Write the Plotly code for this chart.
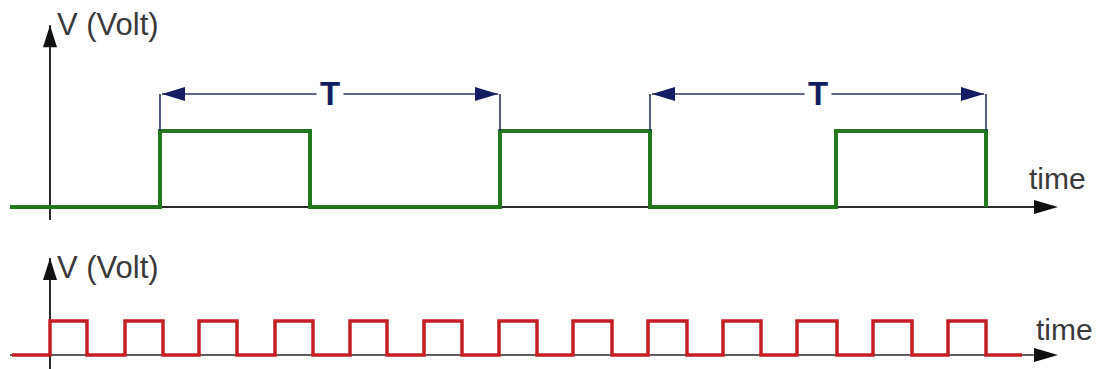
import plotly.graph_objects as go

# slow square wave (top panel): edge times and level after each edge
slow_t = [10, 160, 310, 500, 650, 836, 986]
slow_v = [0, 1, 0, 1, 0, 1, 0]

# fast square wave (bottom panel)
fast_t = [12, 50, 87, 125, 163, 199, 237, 275, 313, 350, 387, 424, 462,
          499, 537, 573, 612, 648, 687, 723, 761, 797, 837, 873, 912,
          948, 986, 1022]
fast_v = [0, 1, 0, 1, 0, 1, 0, 1, 0, 1, 0, 1, 0,
          1, 0, 1, 0, 1, 0, 1, 0, 1, 0, 1, 0,
          1, 0, 0]

# period markers on the slow wave
periods = [(160, 500), (650, 986)]
period_label = "T"
period_level = 1.487

axis_label = "V (Volt)"
time_label = "time"

T_START = 10
T_END = 1058
V_AXIS_T = 50

GREEN = "#23781f"
RED = "#c41e24"
NAVY = "#141c63"
AXIS = "#2a2a2a"
FONT = "Liberation Sans, Arial, sans-serif"


def arrow_head(xref, yref, x, y, direction, color, length=24, half=7):
    """Filled triangle whose tip sits at (x, y) in data coords, sized in pixels."""
    if direction == "right":
        path = f"M0,0 L{-length},{half} L{-length},{-half} Z"
    elif direction == "left":
        path = f"M0,0 L{length},{half} L{length},{-half} Z"
    else:  # up
        path = f"M0,0 L{-half},{-length} L{half},{-length} Z"
    return dict(type="path", xref=xref, yref=yref, xsizemode="pixel", ysizemode="pixel",
                xanchor=x, yanchor=y, path=path, fillcolor=color, line_width=0, layer="above")


fig = go.Figure()

fig.add_trace(go.Scatter(x=slow_t, y=slow_v, mode="lines", line_shape="hv",
                         line=dict(color=GREEN, width=4), xaxis="x", yaxis="y",
                         hoverinfo="skip", showlegend=False))
fig.add_trace(go.Scatter(x=fast_t, y=fast_v, mode="lines", line_shape="hv",
                         line=dict(color=RED, width=3.5), xaxis="x2", yaxis="y2",
                         hoverinfo="skip", showlegend=False))

shapes = []
annotations = []

panels = [
    # xref, yref, y-axis bottom, y-axis tip, label y, time label y, time label x, width
    ("x", "y", -0.17, 2.39, 2.40, 0.38, 1027, 2),
    ("x2", "y2", -0.45, 2.85, 2.58, 0.74, 1034, 1.5),
]
for xr, yr, vb, vt, ly, tly, tlx, w in panels:
    # time axis
    shapes.append(dict(type="line", xref=xr, yref=yr, x0=T_START, x1=T_END - 10, y0=0, y1=0,
                       line=dict(color=AXIS, width=w), layer="below"))
    shapes.append(arrow_head(xr, yr, T_END, 0, "right", "#111"))
    # voltage axis
    shapes.append(dict(type="line", xref=xr, yref=yr, x0=V_AXIS_T, x1=V_AXIS_T, y0=vb, y1=vt,
                       line=dict(color=AXIS, width=2), layer="below"))
    shapes.append(arrow_head(xr, yr, V_AXIS_T, vt, "up", "#111", length=22, half=7))
    annotations.append(dict(xref=xr, yref=yr, x=V_AXIS_T + 5, y=ly, text=axis_label,
                            showarrow=False, xanchor="left", yanchor="middle",
                            font=dict(family=FONT, size=31, color="#3a3a3a")))
    annotations.append(dict(xref=xr, yref=yr, x=tlx, y=tly, text=time_label,
                            showarrow=False, xanchor="left", yanchor="middle",
                            font=dict(family=FONT, size=30, color="#3a3a3a")))

for t0, t1 in periods:
    for t in (t0, t1):
        shapes.append(dict(type="line", xref="x", yref="y", x0=t, x1=t, y0=1, y1=period_level,
                           line=dict(color="#2b3566", width=1.6)))
    shapes.append(dict(type="line", xref="x", yref="y", x0=t0 + 2, x1=t1 - 2,
                       y0=period_level, y1=period_level,
                       line=dict(color="#2b3566", width=1.6)))
    shapes.append(arrow_head("x", "y", t0 + 2, period_level, "left", NAVY, length=23, half=7))
    shapes.append(arrow_head("x", "y", t1 - 2, period_level, "right", NAVY, length=23, half=7))
    annotations.append(dict(xref="x", yref="y", x=(t0 + t1) / 2, y=period_level,
                            text=f"<b>{period_label}</b>", showarrow=False,
                            bgcolor="white", borderpad=3,
                            font=dict(family=FONT, size=33, color=NAVY)))

fig.update_layout(
    width=1098,
    height=369,
    margin=dict(l=0, r=0, t=0, b=0),
    paper_bgcolor="white",
    plot_bgcolor="white",
    xaxis=dict(range=[0, 1098], domain=[0, 1], visible=False, anchor="y"),
    yaxis=dict(range=[-0.3026, 2.7237], domain=[0.3767, 1], visible=False, anchor="x"),
    xaxis2=dict(range=[0, 1098], domain=[0, 1], visible=False, anchor="y2"),
    yaxis2=dict(range=[-0.4118, 3.6176], domain=[0, 0.3713], visible=False, anchor="x2"),
    shapes=shapes,
    annotations=annotations,
    showlegend=False,
)

# drop the default page margin so the figure sits at the window's top-left corner
fig.write_html("out.html", config={"displayModeBar": False},
               post_script="document.body.style.margin = '0';")
